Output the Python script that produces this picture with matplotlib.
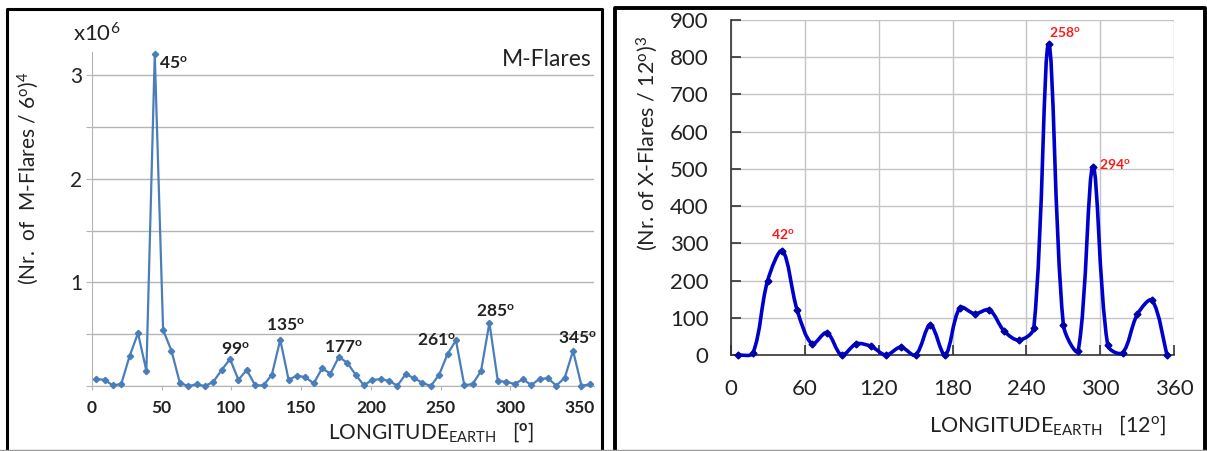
import numpy as np
import matplotlib
matplotlib.use("Agg")
import matplotlib.pyplot as plt
from matplotlib.path import Path
from matplotlib.patches import PathPatch
from matplotlib.lines import Line2D

plt.rcParams["font.family"] = ["Lato", "DejaVu Sans"]
plt.rcParams["mathtext.fontset"] = "custom"
plt.rcParams["mathtext.rm"] = "Lato"
plt.rcParams["mathtext.it"] = "Lato:italic"
plt.rcParams["mathtext.bf"] = "Lato:bold"

# left chart: M-flares, 6 degree bins (values in units of 1e6)
m_lon = [3, 9, 15, 21, 27, 33, 39, 45, 51, 57,
         63, 69, 75, 81, 87, 93, 99, 105, 111, 117,
         123, 129, 135, 141, 147, 153, 159, 165, 171, 177,
         183, 189, 195, 201, 207, 213, 219, 225, 231, 237,
         243, 249, 255, 261, 267, 273, 279, 285, 291, 297,
         303, 309, 315, 321, 327, 333, 339, 345, 351, 357]
m_vals = [0.068, 0.06, 0.005, 0.02, 0.29, 0.51, 0.145, 3.20, 0.54, 0.34,
          0.03, 0.0, 0.015, 0.0, 0.04, 0.155, 0.26, 0.06, 0.155, 0.006,
          0.006, 0.11, 0.445, 0.06, 0.10, 0.085, 0.025, 0.17, 0.12, 0.28,
          0.225, 0.11, 0.006, 0.06, 0.065, 0.05, 0.003, 0.115, 0.075, 0.03,
          0.0, 0.11, 0.31, 0.44, 0.006, 0.02, 0.145, 0.61, 0.05, 0.04,
          0.02, 0.065, 0.01, 0.068, 0.075, 0.003, 0.08, 0.34, 0.003, 0.015]
m_peaks = [45, 99, 135, 177, 261, 285, 345]

# right chart: X-flares, 12 degree bins
x_lon = [6, 18, 30, 42, 54, 66, 78, 90, 102, 114,
         126, 138, 150, 162, 174, 186, 198, 210, 222, 234,
         246, 258, 270, 282, 294, 306, 318, 330, 342, 354]
x_vals = [0, 5, 200, 280, 120, 30, 60, 0, 30, 23,
          0, 21, 0, 81, 0, 127, 111, 121, 64, 40,
          73, 835, 80, 12, 505, 26, 6, 109, 147, 0]
x_peaks = [42, 258, 294]

W, H = 1207, 451
fig = plt.figure(figsize=(W / 100, H / 100), dpi=100)


def px_axes(x0, x1, ytop, ybot):
    return fig.add_axes([x0 / W, 1 - ybot / H, (x1 - x0) / W, (ybot - ytop) / H])


def fig_line(xs, ys, **kw):
    fig.add_artist(Line2D([x / W for x in xs], [1 - y / H for y in ys],
                          transform=fig.transFigure, **kw))


def smooth_path(ax, x, y):
    # spreadsheet-like smoothed line: bezier handles scaled by the screen length of
    # neighbouring segments, so sharp peaks don't overshoot much
    pts = ax.transData.transform(np.column_stack([x, y]))
    n = len(pts)
    seg = np.hypot(*np.diff(pts, axis=0).T)
    verts = [pts[0]]
    codes = [Path.MOVETO]
    for i in range(n - 1):
        i0 = max(i - 1, 0)
        i3 = min(i + 2, n - 1)
        d01 = seg[i - 1] if i > 0 else seg[i]
        d12 = seg[i]
        d23 = seg[i + 1] if i + 1 < n - 1 else seg[i]
        c1 = pts[i] + (pts[i + 1] - pts[i0]) * d12 / (d01 + d12) / 3
        c2 = pts[i + 1] - (pts[i3] - pts[i]) * d12 / (d12 + d23) / 3
        verts += [c1, c2, pts[i + 1]]
        codes += [Path.CURVE4] * 3
    return Path(ax.transData.inverted().transform(np.array(verts)), codes)


txt = "#222222"
grid_c = "#b4b4b4"

# panel frames
fig_line([6.5, 6.5, 601.5, 601.5], [451, 8.5, 8.5, 451], color="black", lw=2.2)
fig_line([614.5, 614.5, 1205, 1205], [451, 7.5, 7.5, 451], color="black", lw=2.8)
fig_line([0, W], [450, 450], color="#9a9a9a", lw=1.0)

# ---------------- left chart ----------------
ax1 = px_axes(92, 594, 52.3, 386)
ax1.plot(m_lon, m_vals, color="#4a7ebb", lw=1.6, marker="D", ms=3.2, clip_on=False, zorder=3)
ax1.set_xlim(0, 360)
ax1.set_ylim(0, 3.22)
ax1.set_xticks([0, 50, 100, 150, 200, 250, 300, 350])
ax1.set_yticks([0, 0.5, 1, 1.5, 2, 2.5, 3], labels=["", "", "1", "", "2", "", "3"])
ax1.grid(axis="y", color=grid_c, lw=1.0)
ax1.set_axisbelow(True)
for s in ["top", "right"]:
    ax1.spines[s].set_visible(False)
for s in ["left", "bottom"]:
    ax1.spines[s].set_color(grid_c)
ax1.tick_params(axis="x", colors=grid_c, labelcolor=txt, length=3, pad=7, labelsize=12.5)
ax1.tick_params(axis="y", colors=grid_c, labelcolor=txt, length=4, pad=3, labelsize=15)
for lab in ax1.get_xticklabels():
    lab.set_fontweight("bold")

m_offsets = {45: (3, -7, "left", "center"), 99: (4, 1, "center", "bottom"),
             135: (4, 4, "center", "bottom"), 177: (3, 1, "center", "bottom"),
             261: (0, 0, "right", "center"), 285: (4, 2, "center", "bottom"),
             345: (3, 3, "center", "bottom")}
for p in m_peaks:
    dx, dy, ha, va = m_offsets[p]
    ax1.annotate(f"{p}" + r"$^{\mathbf{o}}$", (p, m_vals[m_lon.index(p)]), xytext=(dx, dy),
                 textcoords="offset points", ha=ha, va=va, fontsize=12.5, fontweight="bold",
                 color=txt, zorder=4)

fig.text(73 / W, 1 - 41 / H, r"x10$^{6}$", fontsize=16, color=txt, va="baseline")
fig.text(592 / W, 1 - 59 / H, "M-Flares", fontsize=16.5, color=txt, ha="right", va="center")
fig.text(28 / W, 1 - 178 / H, r"(Nr.  of  M-Flares / 6$^{\mathrm{o}}$)$^{4}$", fontsize=15,
         color=txt, rotation=90, ha="center", va="center")
fig.text(431 / W, 1 - 432 / H, r"LONGITUDE$_{\mathrm{EARTH}}$   [$^{\mathbf{o}}$]", fontsize=15,
         color=txt, ha="center", va="center")

# ---------------- right chart ----------------
ax2 = px_axes(730.7, 1174.3, 20, 355)
ax2.set_xlim(0, 360)
ax2.set_ylim(0, 900)
ax2.add_patch(PathPatch(smooth_path(ax2, x_lon, x_vals), fill=False, ec="#0000cc", lw=2.6,
                        zorder=3, capstyle="round", joinstyle="round", clip_on=False))
ax2.plot(x_lon, x_vals, ls="none", marker="D", ms=3.5, color="#0000aa", clip_on=False, zorder=4)
ax2.set_xticks([0, 60, 120, 180, 240, 300, 360])
ax2.set_yticks(range(0, 901, 100))
ax2.grid(True, color="#c4c4c4", lw=1.0)
ax2.set_axisbelow(True)
for s in ["top", "right"]:
    ax2.spines[s].set_visible(False)
for s in ["left", "bottom"]:
    ax2.spines[s].set_color("#333333")
    ax2.spines[s].set_linewidth(1.2)
ax2.tick_params(axis="both", direction="in", length=7, width=1.2, colors="#333333",
                labelcolor=txt, labelsize=16)
ax2.tick_params(axis="x", pad=17)
ax2.tick_params(axis="y", pad=16)

x_offsets = {42: (0, 7, "center", "bottom"), 258: (0, 4, "left", "bottom"),
             294: (4, 2, "left", "center")}
for p in x_peaks:
    dx, dy, ha, va = x_offsets[p]
    ax2.annotate(f"{p}" + r"$^{\mathbf{o}}$", (p, x_vals[x_lon.index(p)]), xytext=(dx, dy),
                 textcoords="offset points", ha=ha, va=va, fontsize=10, fontweight="bold",
                 color="#ff1a1a", zorder=5)

fig.text(647 / W, 1 - 143 / H, r"(Nr. of X-Flares / 12$^{\mathrm{o}}$)$^{3}$", fontsize=15.5,
         color=txt, rotation=90, ha="center", va="center")
fig.text(1048 / W, 1 - 425 / H, r"LONGITUDE$_{\mathrm{EARTH}}$   [12$^{\mathrm{o}}$]", fontsize=15.5,
         color=txt, ha="center", va="center")

fig.savefig("out.png", dpi=100)
